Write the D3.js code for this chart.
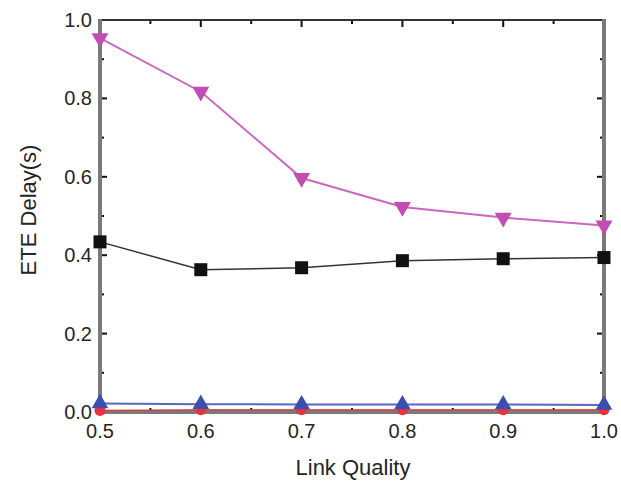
<!DOCTYPE html>
<html>
<head>
<meta charset="utf-8">
<script src="https://cdn.jsdelivr.net/npm/d3@7"></script>
<style>
  html, body { margin: 0; padding: 0; background: #fff; }
  svg { display: block; }
  text { font-family: "Liberation Sans", Arial, sans-serif; fill: #252525; }
</style>
</head>
<body>
<svg id="chart" width="621" height="489"></svg>
<script>
// Link quality values on the x axis
const linkQuality = [0.5, 0.6, 0.7, 0.8, 0.9, 1.0];

// End-to-end delay (s) per scheme
const seriesMagenta = [0.954, 0.817, 0.597, 0.523, 0.496, 0.476];
const seriesBlack   = [0.434, 0.363, 0.368, 0.386, 0.391, 0.394];
const seriesBlue    = [0.022, 0.020, 0.019, 0.019, 0.019, 0.018];
const seriesRed     = [0.004, 0.006, 0.006, 0.006, 0.006, 0.006];

const xTicks = [0.5, 0.6, 0.7, 0.8, 0.9, 1.0];
const yTicks = [0.0, 0.2, 0.4, 0.6, 0.8, 1.0];
const xTitle = "Link Quality";
const yTitle = "ETE Delay(s)";

const svg = d3.select("#chart");
const plotL = 100, plotR = 604, plotT = 20, plotB = 412;

const x = d3.scaleLinear().domain([0.5, 1.0]).range([plotL, plotR]);
const y = d3.scaleLinear().domain([0, 1.0]).range([plotB, plotT]);

// Minor tick positions between the labelled ones
const xMinor = d3.range(0.55, 1.0, 0.1);
const yMinor = d3.range(0.1, 1.0, 0.2);

const gAxes = svg.append("g");

// Inward ticks on all four sides
function ticks(g, scale, values, len, orient) {
  g.selectAll(null).data(values).join("line")
    .attr("stroke", "#111").attr("stroke-width", 2)
    .each(function(d) {
      const s = d3.select(this);
      const p = scale(d);
      if (orient === "bottom") s.attr("x1", p).attr("x2", p).attr("y1", plotB).attr("y2", plotB - len);
      if (orient === "top") s.attr("x1", p).attr("x2", p).attr("y1", plotT).attr("y2", plotT + len);
      if (orient === "left") s.attr("y1", p).attr("y2", p).attr("x1", plotL).attr("x2", plotL + len);
      if (orient === "right") s.attr("y1", p).attr("y2", p).attr("x1", plotR).attr("x2", plotR - len);
    });
}
ticks(gAxes, x, xTicks.slice(1, -1), 7, "bottom");
ticks(gAxes, x, xMinor, 4, "bottom");
ticks(gAxes, x, xTicks.slice(1, -1), 7, "top");
ticks(gAxes, x, xMinor, 4, "top");
ticks(gAxes, y, yTicks.slice(1, -1), 7, "left");
ticks(gAxes, y, yMinor, 4, "left");
ticks(gAxes, y, yTicks.slice(1, -1), 7, "right");
ticks(gAxes, y, yMinor, 4, "right");

// Frame: heavy grey left/right/bottom, darker top
gAxes.append("line").attr("x1", plotL).attr("x2", plotR).attr("y1", plotT).attr("y2", plotT)
  .attr("stroke", "#333").attr("stroke-width", 2);
gAxes.append("line").attr("x1", plotL).attr("x2", plotL).attr("y1", plotT - 1).attr("y2", plotB + 2)
  .attr("stroke", "#7a7a7a").attr("stroke-width", 4);
gAxes.append("line").attr("x1", plotR).attr("x2", plotR).attr("y1", plotT - 1).attr("y2", plotB + 2)
  .attr("stroke", "#7a7a7a").attr("stroke-width", 4);
gAxes.append("line").attr("x1", plotL - 2).attr("x2", plotR + 2).attr("y1", plotB).attr("y2", plotB)
  .attr("stroke", "#7a7a7a").attr("stroke-width", 4);

// Tick labels
svg.append("g").selectAll("text").data(xTicks).join("text")
  .attr("x", d => x(d)).attr("y", plotB + 26)
  .attr("text-anchor", "middle").attr("font-size", 20)
  .text(d => d3.format(".1f")(d));
svg.append("g").selectAll("text").data(yTicks).join("text")
  .attr("x", plotL - 8).attr("y", d => y(d) + 7)
  .attr("text-anchor", "end").attr("font-size", 20)
  .text(d => d3.format(".1f")(d));

// Axis titles
svg.append("text").attr("x", 353).attr("y", 475)
  .attr("text-anchor", "middle").attr("font-size", 22).text(xTitle);
svg.append("text").attr("transform", "translate(36,210) rotate(-90)")
  .attr("text-anchor", "middle").attr("font-size", 22).text(yTitle);

// Series lines and markers
const series = [
  { values: seriesRed, color: "#e8323c", marker: "circle", lw: 1.5 },
  { values: seriesBlue, color: "#3a4fb0", marker: "up", lw: 2 },
  { values: seriesBlack, color: "#111", marker: "square", lw: 1.5 },
  { values: seriesMagenta, color: "#c34bb4", marker: "down", lw: 2 }
];

const line = d3.line().x(d => x(d[0])).y(d => y(d[1]));

series.forEach(s => {
  const pts = linkQuality.map((q, i) => [q, s.values[i]]);
  svg.append("path").datum(pts)
    .attr("d", line).attr("fill", "none")
    .attr("stroke", s.color).attr("stroke-width", s.lw).attr("opacity", 0.85);

  const g = svg.append("g").attr("fill", s.color);
  pts.forEach(p => {
    const cx = x(p[0]), cy = y(p[1]);
    if (s.marker === "square") {
      g.append("rect").attr("x", cx - 6.5).attr("y", cy - 6.5).attr("width", 13).attr("height", 13);
    } else if (s.marker === "circle") {
      g.append("circle").attr("cx", cx).attr("cy", cy).attr("r", 5.5);
    } else if (s.marker === "up") {
      g.append("path").attr("d", d3.symbol(d3.symbolTriangle, 120)()).attr("transform", `translate(${cx},${cy})`);
    } else {
      g.append("path").attr("d", d3.symbol(d3.symbolTriangle, 125)()).attr("transform", `translate(${cx},${cy}) rotate(180)`);
    }
  });
});
</script>
</body>
</html>
